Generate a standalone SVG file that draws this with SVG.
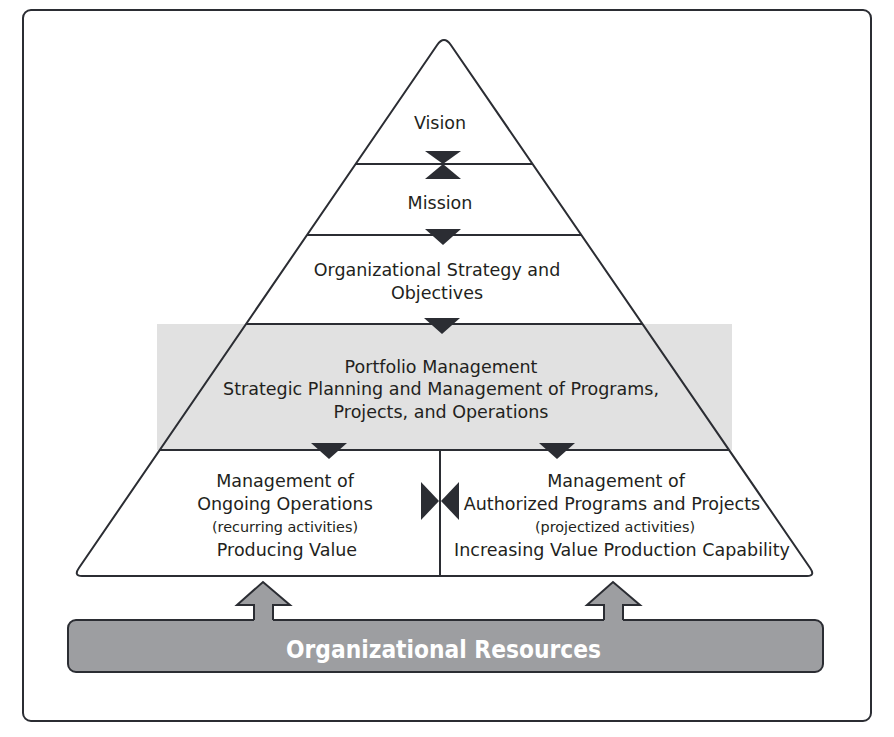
<svg xmlns="http://www.w3.org/2000/svg" width="894" height="737" viewBox="0 0 894 737">
<style>
.ln{stroke:#2b2d33;stroke-width:2;fill:none}
.ah{fill:#2b2d33}
.t{font-family:"DejaVu Sans",sans-serif;font-size:17.5px;fill:#231f20;text-anchor:middle}
.s{font-size:14.4px}
.res{font-family:"DejaVu Sans Condensed","DejaVu Sans",sans-serif;font-weight:bold;font-size:24px;fill:#ffffff;text-anchor:middle}
.ga{fill:#9d9ea1}
</style>
<rect x="0" y="0" width="894" height="737" fill="#ffffff"/>
<rect x="23" y="10" width="848" height="711" rx="8" class="ln"/>
<path d="M78.9,568 L437.15,45 Q444,35 450.85,45 L810.1,568 Q815.6,576 807,576 L82,576 Q73.4,576 78.9,568 Z" fill="#ffffff"/>
<rect x="157" y="324" width="575" height="126" fill="#e1e1e1"/>
<path d="M78.9,568 L437.15,45 Q444,35 450.85,45 L810.1,568 Q815.6,576 807,576 L82,576 Q73.4,576 78.9,568 Z" class="ln"/>
<g id="dividers">
<line x1="355.6" y1="164" x2="532.6" y2="164" class="ln"/>
<line x1="307" y1="235" x2="581.3" y2="235" class="ln"/>
<line x1="246" y1="324" x2="642.5" y2="324" class="ln"/>
<line x1="159.7" y1="450" x2="729" y2="450" class="ln"/>
<line x1="440" y1="450" x2="440" y2="576" class="ln"/>
</g>
<g id="vision"><text class="t" x="440" y="129">Vision</text></g>
<g id="mission"><text class="t" x="440" y="209">Mission</text></g>
<g id="strategy"><text class="t" x="437" y="276">Organizational Strategy and</text><text class="t" x="437" y="299">Objectives</text></g>
<g id="portfolio"><text class="t" x="441" y="373">Portfolio Management</text><text class="t" x="441" y="395">Strategic Planning and Management of Programs,</text><text class="t" x="441" y="418">Projects, and Operations</text></g>
<g id="operations"><text class="t" x="285" y="487">Management of</text><text class="t" x="285" y="510">Ongoing Operations</text><text class="t s" x="285" y="532">(recurring activities)</text><text class="t" x="287" y="556">Producing Value</text></g>
<g id="programs"><text class="t" x="616" y="487">Management of</text><text class="t" x="612" y="510">Authorized Programs and Projects</text><text class="t s" x="615" y="532">(projectized activities)</text><text class="t" x="622" y="556">Increasing Value Production Capability</text></g>
<g id="resources">
<rect x="68" y="620" width="755" height="52" rx="8" class="ln" style="fill:#9d9ea1"/>
<text class="res" x="443.5" y="658" textLength="315" lengthAdjust="spacingAndGlyphs">Organizational Resources</text>
</g>
<g id="connectors">
<polygon class="ah" points="425,151 461,151 443,164"/>
<polygon class="ah" points="443,164 425,179 461,179"/>
<polygon class="ah" points="425,229 461,229 443,245"/>
<polygon class="ah" points="424,318 460,318 442,334"/>
<polygon class="ah" points="311,443 347,443 329,459"/>
<polygon class="ah" points="539,443 575,443 557,459"/>
<polygon class="ah" points="421,482 421,520 439,501"/>
<polygon class="ah" points="459,482 459,520 441,501"/>
<path class="ga" d="M254,623 V605 H237 L263,582 L290,605 H273 V623 Z"/>
<path class="ln" d="M254,620 V605 H237 L263,582 L290,605 H273 V620"/>
<path class="ga" d="M604,623 V605 H587 L613,582 L640,605 H623 V623 Z"/>
<path class="ln" d="M604,620 V605 H587 L613,582 L640,605 H623 V620"/>
</g>
</svg>
